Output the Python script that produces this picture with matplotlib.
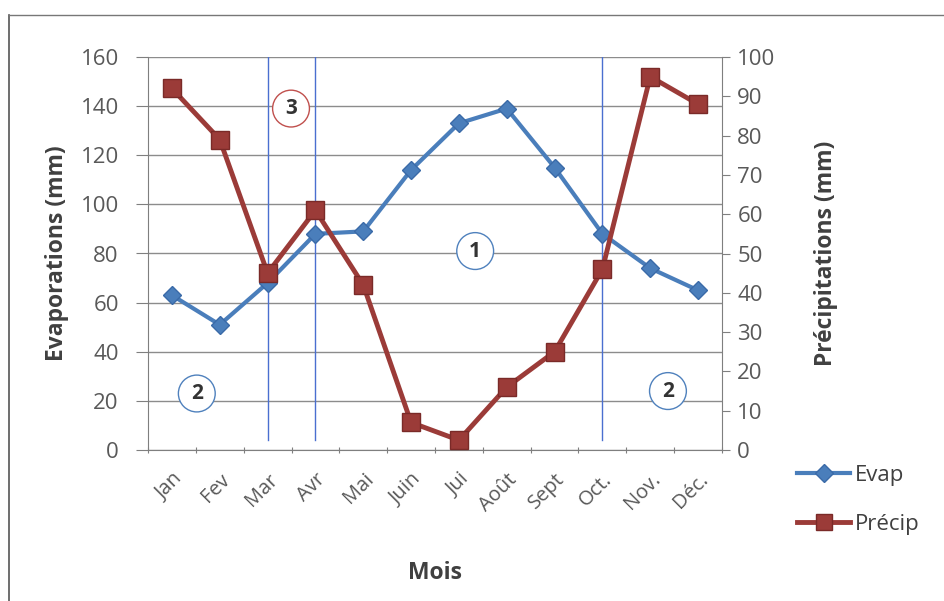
import numpy as np
import matplotlib
matplotlib.use('Agg')
import matplotlib.pyplot as plt
from matplotlib.lines import Line2D

plt.rcParams['font.family'] = ['Open Sans', 'DejaVu Sans']

# ── données ───────────────────────────────────────────────
mois   = ["Jan", "Fev", "Mar", "Avr", "Mai", "Juin", "Jui", "Août",
          "Sept", "Oct.", "Nov.", "Déc."]
evap   = [63, 51, 68, 88, 89, 114, 133, 139, 115, 88, 74, 65]
precip = [92, 79, 45, 61, 42, 7, 2.5, 16, 25, 46, 95, 88]

# limites des périodes (lignes verticales)
limites = ["Mar", "Avr", "Oct."]
# zones numérotées : (texte, mois, evap, couleur du cercle)
zones = [("3", 3.49, 139, "#c0504d"),
         ("1", 7.34, 81, "#4f81bd"),
         ("2", 1.52, 23, "#4f81bd"),
         ("2", 11.37, 24, "#4f81bd")]

C_EVAP   = "#4a7ebb"
C_PRECIP = "#9b3b38"
C_TXT    = "#404040"

fig = plt.figure(figsize=(9.45, 6.01), dpi=100)
ax = fig.add_axes([148/945, 1-450/601, (722-148)/945, (450-57)/601])
ax2 = ax.twinx()

x = np.arange(1, len(mois) + 1)

# grille
ax.set_ylim(0, 160)
ax.set_yticks(np.arange(0, 161, 20))
ax.grid(axis="y", color="#8c8c8c", lw=1.0)
ax.set_axisbelow(True)
ax.set_xlim(0.5, len(mois) + 0.5)
ax.set_xticks(np.arange(0.5, len(mois) + 1))
ax.set_xticklabels([])
ax.set_xticks(x, minor=True)
ax.set_xticklabels(mois, minor=True, rotation=45, ha="right", va="top",
                   rotation_mode="anchor", fontsize=14.5, color="#595959")
ax.tick_params(axis="x", which="minor", length=0, pad=14)
ax.tick_params(axis="x", which="major", length=5, direction="inout", color="#7f7f7f")
ax.tick_params(axis="y", length=9, direction="out", color="#7f7f7f",
               labelsize=16, labelcolor="#595959", pad=12)

for s in ["top", "right"]:
    ax.spines[s].set_visible(False)
    ax2.spines[s].set_visible(False)
for s in ["left", "bottom"]:
    ax.spines[s].set_color("#7f7f7f")
ax2.spines["left"].set_visible(False)
ax2.spines["bottom"].set_visible(False)
ax2.spines["right"].set_visible(True)
ax2.spines["right"].set_color("#7f7f7f")

ax2.set_ylim(0, 100)
ax2.set_yticks(np.arange(0, 101, 10))
ax2.tick_params(axis="y", length=6, direction="out", color="#7f7f7f",
                labelsize=16, labelcolor="#595959", pad=5)

# lignes verticales
for m in limites:
    ax.axvline(mois.index(m) + 1, ymin=0.025, ymax=1.0, color="#4a6fd0", lw=1.0)

# séries
ax.plot(x, evap, color=C_EVAP, lw=3, marker="D", ms=9,
        mfc=C_EVAP, mec="#3a6aa8", zorder=4)
ax2.plot(x, precip, color=C_PRECIP, lw=3.5, marker="s", ms=13,
         mfc=C_PRECIP, mec="#7a2a28", zorder=4)

# cercles numérotés
for txt, xx, yy, col in zones:
    ax.text(xx, yy, txt, ha="center", va="center", fontsize=15,
            fontweight="bold", color="#333333", zorder=6,
            bbox=dict(boxstyle="circle,pad=0.38", fc="white", ec=col, lw=1.0))

# titres des axes
ax.set_ylabel("Evaporations (mm)", fontsize=16.5, fontweight="bold",
              color=C_TXT, labelpad=8)
ax2.set_ylabel("Précipitations (mm)", fontsize=16.5, fontweight="bold",
               color=C_TXT, labelpad=28)
ax.set_xlabel("Mois", fontsize=16.5, fontweight="bold", color=C_TXT, labelpad=33)

# légende
handles = [Line2D([], [], color=C_EVAP, lw=3, marker="D", ms=9, mec="#3a6aa8"),
           Line2D([], [], color=C_PRECIP, lw=3.5, marker="s", ms=12, mec="#7a2a28")]
fig.legend(handles, ["Evap", "Précip"], loc="center left",
           bbox_to_anchor=(777/945, 1-500/601), frameon=False,
           fontsize=16, handlelength=2.4, labelspacing=1.25,
           labelcolor="#404040", handletextpad=0.2)

# cadre extérieur
fig.add_artist(Line2D([9/945, 9/945], [0, 1-15/601], transform=fig.transFigure,
                      color="#555555", lw=1.2))
fig.add_artist(Line2D([9/945, 1], [1-15/601, 1-15/601], transform=fig.transFigure,
                      color="#777777", lw=1.0))

fig.savefig("out.png", dpi=100)
